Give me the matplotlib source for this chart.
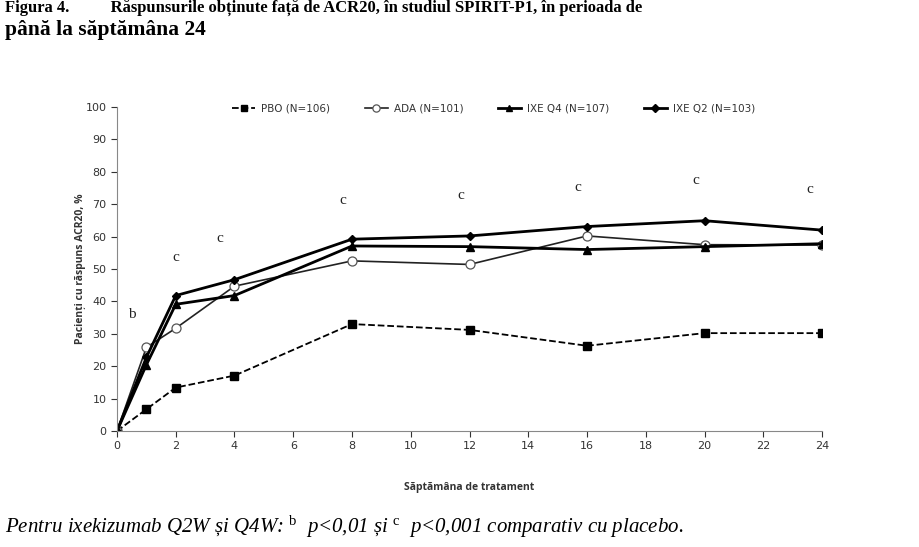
import matplotlib.pyplot as plt

weeks = [0, 1, 2, 4, 8, 12, 16, 20, 24]
pbo = [0, 6.7, 13.4, 17.1, 33.0, 31.2, 26.3, 30.2, 30.2]
ada = [0, 25.8, 31.7, 44.7, 52.5, 51.4, 60.2, 57.5, 57.4]
ixe_q4 = [0, 20.4, 39.1, 41.8, 57.1, 56.9, 56.0, 56.9, 57.8]
ixe_q2 = [0, 22.7, 41.8, 46.7, 59.2, 60.2, 63.1, 64.9, 62.0]

# significance letters: (x, y, letter)
sig_x = [0.5, 2.0, 3.5, 7.7, 11.7, 15.7, 19.7, 23.6]
sig_y = [36.0, 53.5, 59.5, 71.0, 72.8, 75.0, 77.2, 74.5]
sig_txt = ['b', 'c', 'c', 'c', 'c', 'c', 'c', 'c']

plt.rcParams['mathtext.fontset'] = 'custom'
plt.rcParams['mathtext.rm'] = 'Liberation Serif'
plt.rcParams['mathtext.it'] = 'Liberation Serif:italic'

fig = plt.figure(figsize=(9.19, 5.47), dpi=100)
ax = fig.add_axes([0.1273, 0.2121, 0.7672, 0.5923])

ax.plot(weeks, pbo, '--', color='black', lw=1.3, marker='s', ms=5.5,
        label='PBO (N=106)')
ax.plot(weeks, ada, '-', color='#222222', lw=1.2, marker='o', ms=6.5,
        mfc='white', mec='#555555', mew=0.9, label='ADA (N=101)')
ax.plot(weeks, ixe_q4, '-', color='black', lw=2.0, marker='^', ms=6,
        label='IXE Q4 (N=107)')
ax.plot(weeks, ixe_q2, '-', color='black', lw=2.0, marker='D', ms=4.5,
        label='IXE Q2 (N=103)')

for x, y, t in zip(sig_x, sig_y, sig_txt):
    ax.text(x, y, t, fontsize=11, family='Liberation Serif',
            ha='center', va='center', color='#222222')

ax.set_xlim(0, 24)
ax.set_ylim(0, 100)
ax.set_xticks(range(0, 25, 2))
ax.set_yticks(range(0, 101, 10))
ax.tick_params(labelsize=8, colors='#333333', length=4, width=0.8)
for s in ['top', 'right']:
    ax.spines[s].set_visible(False)
for s in ['left', 'bottom']:
    ax.spines[s].set_color('#888888')

ax.set_xlabel('Săptămâna de tratament', fontsize=7.5, fontweight='bold',
              family='Open Sans', color='#333333', labelpad=22)
ax.set_ylabel('Pacienți cu răspuns ACR20, %', fontsize=7.5,
              fontweight='bold', family='Open Sans', color='#333333',
              labelpad=0)

leg = ax.legend(loc='upper left', bbox_to_anchor=(0.15, 1.04), ncol=4,
                frameon=False, fontsize=7.5, handlelength=2.2,
                columnspacing=3.3, handletextpad=0.6, markerscale=0.8)
for t in leg.get_texts():
    t.set_color('#333333')

fig.text(0.005, 1.0, 'Figura 4.          Răspunsurile obținute față de ACR20, '
         'în studiul SPIRIT-P1, în perioada de', fontsize=12,
         family='Liberation Serif', fontweight='bold', va='top')
fig.text(0.005, 0.963, 'până la săptămâna 24', fontsize=15.5,
         family='Liberation Serif', fontweight='bold', va='top')

fig.text(0.005, 0.037,
         r'Pentru ixekizumab Q2W și Q4W: $^{\mathrm{b}}$  p<0,01 și '
         r'$^{\mathrm{c}}$  p<0,001 comparativ cu placebo.',
         fontsize=15, family='Liberation Serif', style='italic',
         va='center')

fig.savefig('out.png', dpi=100)
